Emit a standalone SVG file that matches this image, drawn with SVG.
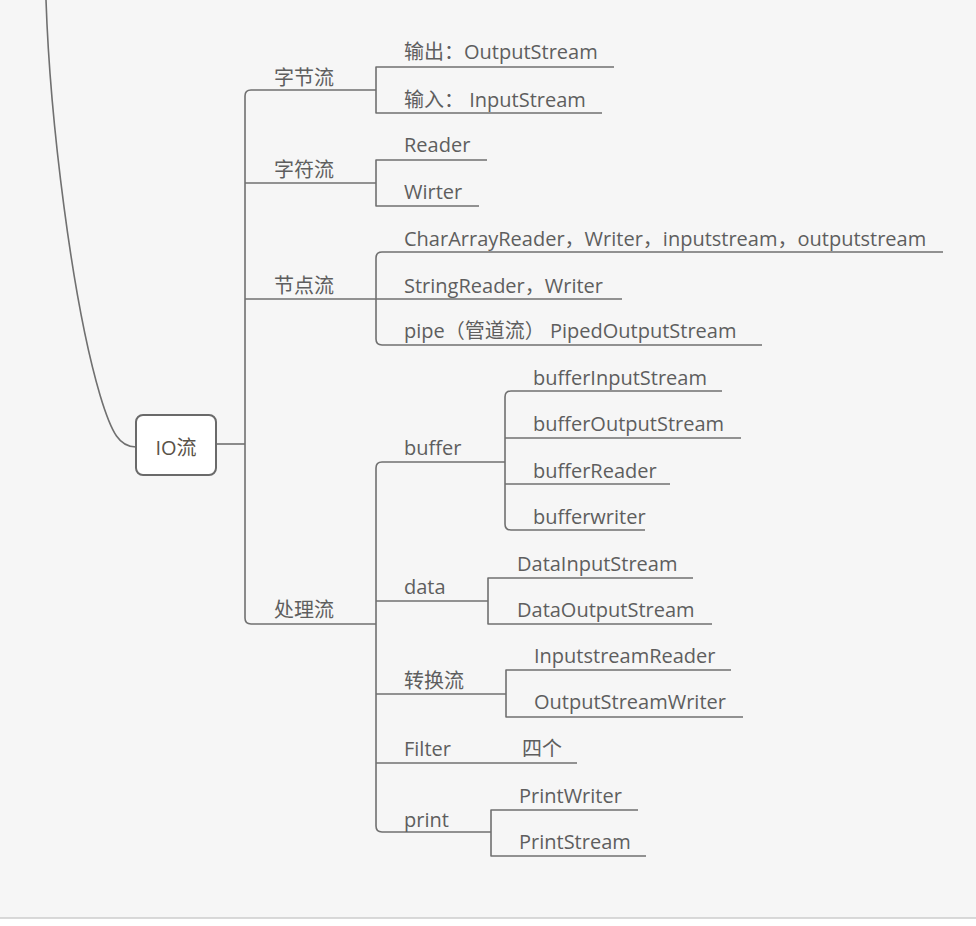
<svg xmlns="http://www.w3.org/2000/svg" width="976" height="926" viewBox="0 0 976 926">
<style>
.t{font-family:"Open Sans","Noto Sans CJK SC",sans-serif;font-size:20px;fill:#5e5e5e;dominant-baseline:central}
.c{fill:none;stroke:#707070;stroke-width:1.6;stroke-linejoin:round}
</style>
<rect x="0" y="0" width="976" height="918" fill="#f6f6f6"/>
<rect x="0" y="918" width="976" height="8" fill="#ffffff"/>
<line x1="0" y1="918" x2="976" y2="918" stroke="#cccccc" stroke-width="1.5"/>
<g id="connectors">
<path class="c" d="M46,0 C50,120 72,300 100,395 C112,435 120,447 136,447"/>
<path class="c" d="M216,444 H245"/>
<path class="c" d="M376,90 H251 Q245,90 245,96 V618 Q245,624 251,624 H376"/>
<path class="c" d="M245,183 H376"/>
<path class="c" d="M245,299 H376"/>
<path class="c" d="M614,67 H376 V113 H602"/>
<path class="c" d="M487,160 H376 V206 H479"/>
<path class="c" d="M943,252 H382 Q376,252 376,258 V339 Q376,345 382,345 H762"/>
<path class="c" d="M376,299 H622"/>
<path class="c" d="M505,462 H382 Q376,462 376,468 V826 Q376,832 382,832 H491"/>
<path class="c" d="M722,391 H511 Q505,391 505,397 V524 Q505,530 511,530 H645"/>
<path class="c" d="M505,438 H741"/>
<path class="c" d="M505,484 H670"/>
<path class="c" d="M376,601 H488"/>
<path class="c" d="M693,578 H488 V624 H712"/>
<path class="c" d="M376,694 H506"/>
<path class="c" d="M731,670 H506 V717 H743"/>
<path class="c" d="M376,763 H577"/>
<path class="c" d="M638,810 H491 V856 H646"/>
</g>
<g id="n-root"><rect x="136" y="415" width="80" height="60" rx="7" fill="#ffffff" stroke="#6a6a6a" stroke-width="2"/><text class="t" x="176" y="447" text-anchor="middle" style="fill:#5a5248">IO流</text></g>
<g id="n-byte"><text class="t" x="274" y="77">字节流</text></g>
<g id="n-char"><text class="t" x="274" y="169">字符流</text></g>
<g id="n-node"><text class="t" x="274" y="285">节点流</text></g>
<g id="n-proc"><text class="t" x="274" y="609">处理流</text></g>
<g id="n-out"><text class="t" x="404" y="51">输出：OutputStream</text></g>
<g id="n-in"><text class="t" x="404" y="99">输入： InputStream</text></g>
<g id="n-reader"><text class="t" x="404" y="144">Reader</text></g>
<g id="n-wirter"><text class="t" x="404" y="191">Wirter</text></g>
<g id="n-chararray"><text class="t" x="404" y="238">CharArrayReader，Writer，inputstream，outputstream</text></g>
<g id="n-string"><text class="t" x="404" y="285">StringReader，Writer</text></g>
<g id="n-pipe"><text class="t" x="404" y="330">pipe（管道流） PipedOutputStream</text></g>
<g id="n-buffer"><text class="t" x="404" y="447">buffer</text></g>
<g id="n-bis"><text class="t" x="533" y="377">bufferInputStream</text></g>
<g id="n-bos"><text class="t" x="533" y="423">bufferOutputStream</text></g>
<g id="n-br"><text class="t" x="533" y="470">bufferReader</text></g>
<g id="n-bw"><text class="t" x="533" y="516">bufferwriter</text></g>
<g id="n-data"><text class="t" x="404" y="586">data</text></g>
<g id="n-dis"><text class="t" x="517" y="563">DataInputStream</text></g>
<g id="n-dos"><text class="t" x="517" y="609">DataOutputStream</text></g>
<g id="n-conv"><text class="t" x="404" y="680">转换流</text></g>
<g id="n-isr"><text class="t" x="534" y="655">InputstreamReader</text></g>
<g id="n-osw"><text class="t" x="534" y="701">OutputStreamWriter</text></g>
<g id="n-filter"><text class="t" x="404" y="748">Filter</text><text class="t" x="522" y="748">四个</text></g>
<g id="n-print"><text class="t" x="404" y="819">print</text></g>
<g id="n-pw"><text class="t" x="519" y="795">PrintWriter</text></g>
<g id="n-ps"><text class="t" x="519" y="841">PrintStream</text></g>
</svg>
